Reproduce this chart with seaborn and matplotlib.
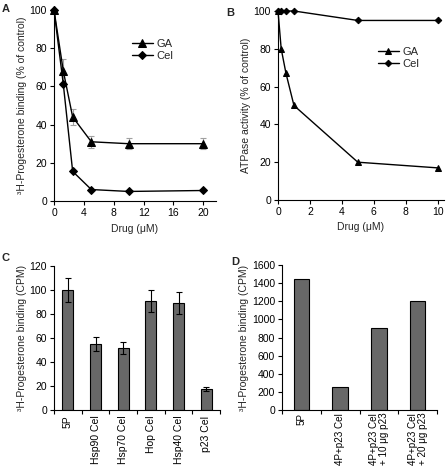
import matplotlib
matplotlib.use("Agg")
import matplotlib.pyplot as plt
import seaborn as sns
import pandas as pd
import numpy as np
from matplotlib.ticker import FixedLocator, NullFormatter

# ---------------- data ----------------
a_x_ga = [0, 1.25, 2.5, 5, 10, 20]
a_y_ga = [100, 68, 44, 31, 30, 30]
a_err_ga = [0, 6.5, 4, 3, 3, 3]
a_x_cel = [0, 1.25, 2.5, 5, 10, 20]
a_y_cel = [100, 61, 15.5, 6, 5, 5.5]

b_x_ga = [0, 0.2, 0.5, 1, 5, 10]
b_y_ga = [100, 80, 67, 50, 20, 17]
b_x_cel = [0, 0.2, 0.5, 1, 5, 10]
b_y_cel = [100, 100, 100, 100, 95, 95]

c_labels = ["5P", "Hsp90 Cel", "Hsp70 Cel", "Hop Cel", "Hsp40 Cel", "p23 Cel"]
c_values = [100, 55, 51.5, 91, 89, 17.5]
c_errors = [10, 5.5, 5, 9, 9, 1.8]

d_labels = ["5P", "4P+p23 Cel", "4P+p23 Cel\n+ 10 \u03bcg p23", "4P+p23 Cel\n+ 20 \u03bcg p23"]
d_values = [1450, 250, 900, 1200]

# ---------------- style ----------------
sns.set_style("ticks")
plt.rcParams["font.family"] = ["Liberation Sans", "DejaVu Sans"]
FS = 7.5
plt.rcParams["font.size"] = FS
plt.rcParams["axes.linewidth"] = 0.8
plt.rcParams["xtick.major.width"] = 0.8
plt.rcParams["ytick.major.width"] = 0.8
plt.rcParams["xtick.major.size"] = 3
plt.rcParams["ytick.major.size"] = 3
plt.rcParams["xtick.color"] = "black"
plt.rcParams["ytick.color"] = "black"
plt.rcParams["axes.edgecolor"] = "black"

W, H = 448, 475
fig = plt.figure(figsize=(W / 100, H / 100), dpi=100)

def px_axes(l, t, r, b):
    return fig.add_axes([l / W, 1 - b / H, (r - l) / W, (b - t) / H])

BAR = "#686868"

# ---------------- Panel A ----------------
axA = px_axes(54, 10, 216, 201)
dfA_ga = pd.DataFrame({"x": a_x_ga, "y": a_y_ga})
dfA_cel = pd.DataFrame({"x": a_x_cel, "y": a_y_cel})
axA.errorbar(a_x_ga, a_y_ga, yerr=a_err_ga, fmt="none", ecolor="#a0a0a0",
             elinewidth=0.8, capsize=2.5, capthick=0.8, zorder=1)
sns.lineplot(data=dfA_ga, x="x", y="y", ax=axA, color="black", marker="^",
             markersize=6, linewidth=1, markeredgecolor="black", label="GA",
             clip_on=False, zorder=3)
sns.lineplot(data=dfA_cel, x="x", y="y", ax=axA, color="black", marker="D",
             markersize=4.2, linewidth=1, markeredgecolor="black", label="Cel",
             clip_on=False, zorder=3)
axA.set_xlim(0, 21.7)
axA.set_ylim(0, 100)
axA.set_xticks([0, 4, 8, 12, 16, 20])
axA.set_yticks([0, 20, 40, 60, 80, 100])
axA.set_xlabel("Drug (\u03bcM)", fontsize=FS, labelpad=4)
axA.set_ylabel("\u00b3H-Progesterone binding (% of control)", fontsize=FS, labelpad=2)
axA.tick_params(labelsize=FS, pad=2)
sns.despine(ax=axA)
axA.legend(loc="upper left", bbox_to_anchor=(0.48, 0.85), frameon=False,
           fontsize=FS + 0.5, handlelength=1.9, handletextpad=0.3, labelspacing=0.2,
           borderaxespad=0, borderpad=0)

# ---------------- Panel B ----------------
axB = px_axes(278, 11, 444, 200)
dfB_ga = pd.DataFrame({"x": b_x_ga, "y": b_y_ga})
dfB_cel = pd.DataFrame({"x": b_x_cel, "y": b_y_cel})
sns.lineplot(data=dfB_ga, x="x", y="y", ax=axB, color="black", marker="^",
             markersize=4.5, linewidth=1, markeredgecolor="black", label="GA",
             clip_on=False, zorder=3)
sns.lineplot(data=dfB_cel, x="x", y="y", ax=axB, color="black", marker="D",
             markersize=3.3, linewidth=1, markeredgecolor="black", label="Cel",
             clip_on=False, zorder=3)
axB.set_xlim(0, 10.4)
axB.set_ylim(0, 100)
axB.set_xticks([0, 2, 4, 6, 8, 10])
axB.set_yticks([0, 20, 40, 60, 80, 100])
axB.set_xlabel("Drug (\u03bcM)", fontsize=FS, labelpad=4)
axB.set_ylabel("ATPase activity (% of control)", fontsize=FS, labelpad=2)
axB.tick_params(labelsize=FS, pad=2)
sns.despine(ax=axB)
axB.legend(loc="upper left", bbox_to_anchor=(0.6, 0.81), frameon=False,
           fontsize=FS + 0.5, handlelength=1.9, handletextpad=0.3, labelspacing=0.2,
           borderaxespad=0, borderpad=0)

# ---------------- Panel C ----------------
axC = px_axes(54, 266, 220, 410)
dfC = pd.DataFrame({"label": c_labels, "value": c_values})
sns.barplot(data=dfC, x="label", y="value", ax=axC, color=BAR, width=0.4,
            edgecolor="black", linewidth=0.8, saturation=1)
axC.errorbar(range(len(c_labels)), c_values, yerr=c_errors, fmt="none",
             ecolor="black", elinewidth=0.8, capsize=2.5, capthick=0.8, zorder=5)
axC.set_xlim(-0.5, len(c_labels) - 0.5)
axC.set_ylim(0, 120)
axC.set_yticks([0, 20, 40, 60, 80, 100, 120])
axC.set_xlabel("")
axC.set_ylabel("\u00b3H-Progesterone binding (CPM)", fontsize=FS, labelpad=2)
axC.tick_params(axis="x", length=0, labelsize=FS, rotation=90, pad=4)
axC.tick_params(axis="y", labelsize=FS, pad=2)
axC.xaxis.set_minor_locator(FixedLocator(np.arange(-0.5, len(c_labels), 1.0)))
axC.xaxis.set_minor_formatter(NullFormatter())
axC.tick_params(axis="x", which="minor", length=3, width=0.8)
sns.despine(ax=axC)

# ---------------- Panel D ----------------
axD = px_axes(282, 265, 437, 410)
dfD = pd.DataFrame({"label": d_labels, "value": d_values})
sns.barplot(data=dfD, x="label", y="value", ax=axD, color=BAR, width=0.4,
            edgecolor="black", linewidth=0.8, saturation=1)
axD.set_xlim(-0.5, len(d_labels) - 0.5)
axD.set_ylim(0, 1600)
axD.set_yticks(list(range(0, 1601, 200)))
axD.set_xlabel("")
axD.set_ylabel("\u00b3H-Progesterone binding (CPM)", fontsize=FS, labelpad=2)
axD.tick_params(axis="x", length=0, labelsize=7.1, rotation=90, pad=2)
axD.tick_params(axis="y", labelsize=FS, pad=2)
for t in axD.get_xticklabels():
    t.set_multialignment("left")
    t.set_linespacing(1.0)
axD.xaxis.set_minor_locator(FixedLocator(np.arange(-0.5, len(d_labels), 1.0)))
axD.xaxis.set_minor_formatter(NullFormatter())
axD.tick_params(axis="x", which="minor", length=3, width=0.8)
sns.despine(ax=axD)

# ---------------- panel letters ----------------
for s, x, y in [("A", 2, 9), ("B", 226, 13), ("C", 2, 258), ("D", 231, 262)]:
    fig.text(x / W, 1 - y / H, s, fontsize=8, fontweight="bold", va="center", ha="left")

fig.savefig("out.png", dpi=100)
